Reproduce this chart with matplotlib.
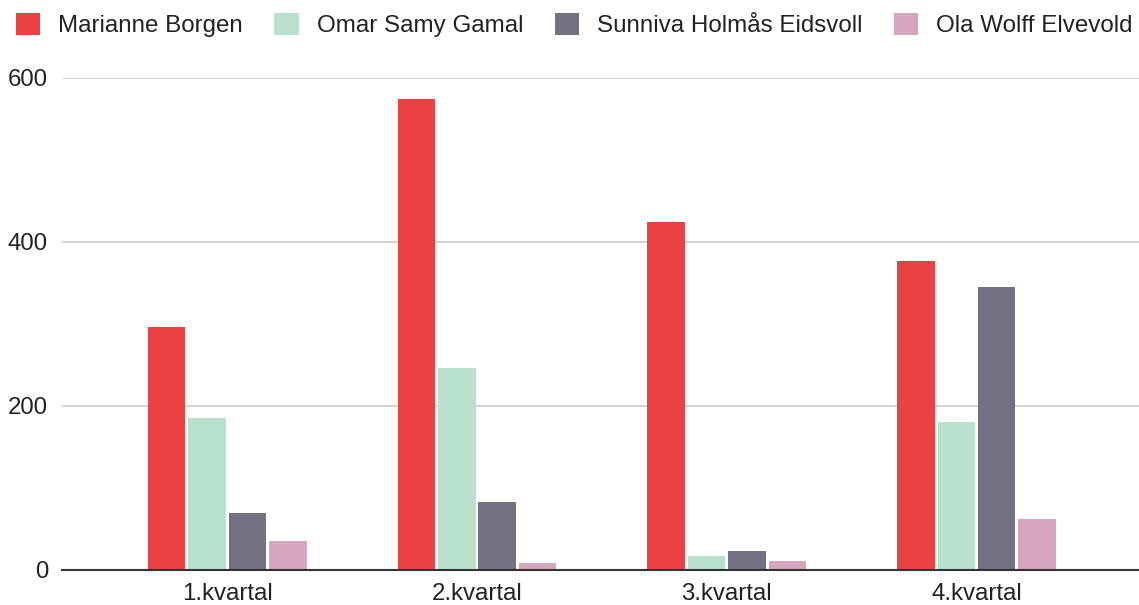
import matplotlib
matplotlib.use("Agg")
import matplotlib.pyplot as plt
import numpy as np

categories = ["1.kvartal", "2.kvartal", "3.kvartal", "4.kvartal"]
series_names = ["Marianne Borgen", "Omar Samy Gamal", "Sunniva Holmås Eidsvoll", "Ola Wolff Elvevold"]
marianne = [296, 574, 424, 377]
omar = [185, 246, 17, 180]
sunniva = [69, 83, 23, 345]
ola = [35, 8, 11, 62]
colors = ["#EA4142", "#B7E1CD", "#737182", "#D5A6BD"]
yticks = [0, 200, 400, 600]

series = [marianne, omar, sunniva, ola]

plt.rcParams['font.family'] = ['Liberation Sans', 'DejaVu Sans']
W, H = 1139, 605
fig = plt.figure(figsize=(W / 100, H / 100), dpi=100)
ax = fig.add_axes([62 / W, 1 - 570 / H, 1 - 62 / W, (570 - 78) / H])

x = np.arange(len(categories))
slot = 0.1618
bw = 0.150
for i, (vals, name, c) in enumerate(zip(series, series_names, colors)):
    ax.bar(x + (i - 1.5) * slot, vals, width=bw, color=c, label=name, zorder=3)

ax.set_xlim(-0.662, 3.651)
ax.set_ylim(0, 600)
ax.set_yticks(yticks)
ax.set_xticks(x)
ax.set_xticklabels(categories)
ax.tick_params(axis='both', length=0, labelsize=17.3, labelcolor="#222222")
ax.tick_params(axis='y', pad=10)
ax.tick_params(axis='x', pad=9.5)
ax.yaxis.grid(True, color="#CCCCCC", linewidth=1.2, zorder=0)
for s in ["top", "right", "left"]:
    ax.spines[s].set_visible(False)
ax.spines["bottom"].set_color("#333333")
ax.spines["bottom"].set_linewidth(1.5)
ax.spines["bottom"].set_zorder(4)

leg = fig.legend(loc="center left", bbox_to_anchor=(16 / W, 1 - 25 / H), ncol=4, frameon=False,
                 fontsize=17.4, handlelength=1.0, handleheight=1.0, handletextpad=0.75,
                 columnspacing=1.3, borderpad=0, borderaxespad=0)
for t in leg.get_texts():
    t.set_color("#222222")

fig.savefig("out.png", dpi=100, facecolor="white")
